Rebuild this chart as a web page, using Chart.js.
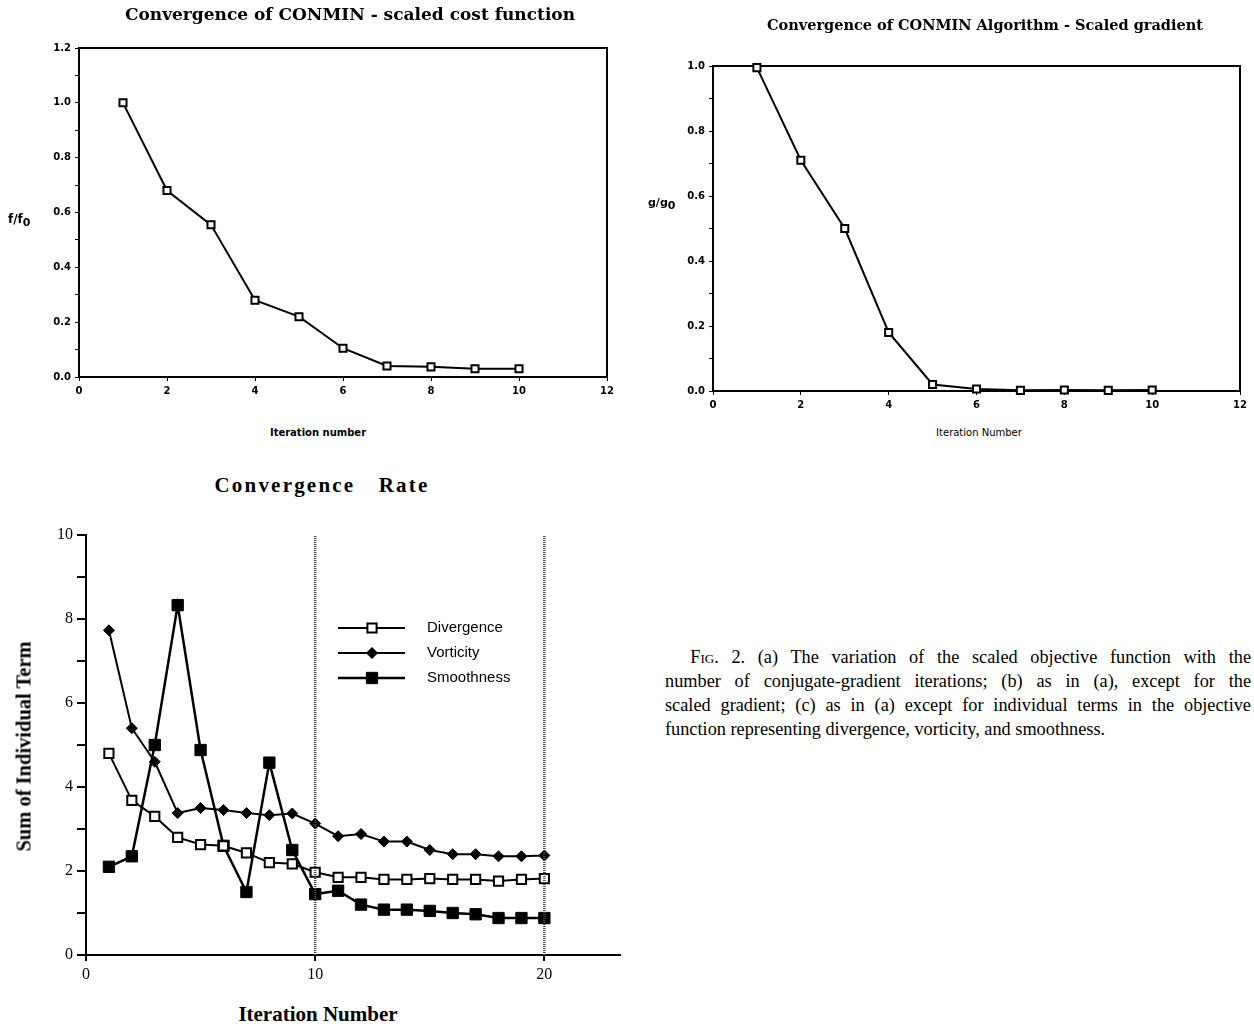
<!DOCTYPE html>
<html>
<head>
<meta charset="utf-8">
<script src="https://cdn.jsdelivr.net/npm/chart.js@4.4.1/dist/chart.umd.min.js"></script>
<style>
  body { margin: 0; background: #fff; width: 1254px; height: 1026px; position: relative; overflow: hidden; color: #000; }
  .box { position: absolute; }
  .txt { position: absolute; white-space: nowrap; }
  .ttlA { font: bold 17px "DejaVu Serif"; }
  .ttlB { font: bold 14.5px "DejaVu Serif"; }
  .axA { font: bold 10px "DejaVu Sans"; }
  .serif { font-family: "Liberation Serif"; font-weight: bold; }
  .caption { position: absolute; left: 665px; top: 645px; width: 586px; font: 18.3px/24px "Liberation Serif"; }
  .caption div { text-align: justify; text-align-last: justify; }
  .caption div.last { text-align-last: left; }
</style>
</head>
<body>

<div class="box" style="left:0;top:0;width:630px;height:420px"><canvas id="chartA"></canvas></div>
<div class="box" style="left:640px;top:0;width:614px;height:420px"><canvas id="chartB"></canvas></div>
<div class="box" style="left:0;top:500px;width:640px;height:500px"><canvas id="chartC"></canvas></div>

<div class="txt ttlA" style="left:0;width:700px;top:4px;text-align:center">Convergence of CONMIN - scaled cost function</div>
<div class="txt ttlB" style="left:735px;width:500px;top:16px;text-align:center">Convergence of CONMIN Algorithm - Scaled gradient</div>
<div class="txt axA" style="left:8px;top:212px;font-size:12px">f/f<sub style="font-size:11px">0</sub></div>
<div class="txt axA" style="left:648px;top:196px;font-size:11px">g/g<sub style="font-size:11px">0</sub></div>
<div class="txt axA" style="left:218px;width:200px;top:427px;text-align:center">Iteration number</div>
<div class="txt axA" style="left:879px;width:200px;top:427px;text-align:center;font-weight:normal">Iteration Number</div>

<div class="txt serif" style="left:162px;width:320px;top:473px;text-align:center;font-size:21px;letter-spacing:2.2px;word-spacing:16px">Convergence Rate</div>
<div class="txt serif" style="left:-96px;width:240px;top:735px;text-align:center;font-size:20.5px;transform:rotate(-90deg)">Sum of Individual Term</div>
<div class="txt serif" style="left:208px;width:220px;top:1002px;text-align:center;font-size:21px">Iteration Number</div>

<div class="caption">
  <div>&nbsp;&nbsp;<span style="font-variant:small-caps">Fig</span>. 2. (a) The variation of the scaled objective function with the</div>
  <div>number of conjugate-gradient iterations; (b) as in (a), except for the</div>
  <div>scaled gradient; (c) as in (a) except for individual terms in the objective</div>
  <div class="last">function representing divergence, vorticity, and smoothness.</div>
</div>

<script>
// (a) scaled cost function
const iterA = [1, 2, 3, 4, 5, 6, 7, 8, 9, 10];
const costRatio = [1.0, 0.68, 0.555, 0.28, 0.22, 0.105, 0.04, 0.037, 0.03, 0.03];

// (b) scaled gradient
const iterB = [1, 2, 3, 4, 5, 6, 7, 8, 9, 10];
const gradRatio = [0.995, 0.71, 0.5, 0.18, 0.02, 0.006, 0.002, 0.003, 0.002, 0.003];

// (c) individual terms
const iterC = [1, 2, 3, 4, 5, 6, 7, 8, 9, 10, 11, 12, 13, 14, 15, 16, 17, 18, 19, 20];
const divergence = [4.8, 3.68, 3.3, 2.8, 2.63, 2.6, 2.43, 2.2, 2.17, 1.97, 1.85, 1.85, 1.8, 1.8, 1.82, 1.8, 1.8, 1.76, 1.8, 1.82];
const vorticity = [7.73, 5.4, 4.6, 3.38, 3.5, 3.45, 3.38, 3.33, 3.37, 3.13, 2.83, 2.88, 2.7, 2.7, 2.5, 2.4, 2.4, 2.35, 2.35, 2.37];
const smoothness = [2.1, 2.35, 5.0, 8.33, 4.88, 2.6, 1.5, 4.58, 2.5, 1.45, 1.53, 1.2, 1.08, 1.08, 1.05, 1.0, 0.97, 0.88, 0.88, 0.88];
const markerLines = [10, 20];

const toXY = (xs, ys) => xs.map((x, i) => ({ x: x, y: ys[i] }));

const frame = {
    id: 'frame',
    beforeDatasetsDraw(chart) {
        const a = chart.chartArea;
        const ctx = chart.ctx;
        ctx.save();
        ctx.strokeStyle = '#000';
        ctx.lineWidth = 2;
        ctx.strokeRect(a.left, a.top, a.right - a.left, a.bottom - a.top);
        ctx.restore();
    }
};

function smallChart(id, xs, ys, yMax, pad) {
    const tickFont = { family: 'DejaVu Sans', size: 10, weight: 'bold' };
    return new Chart(document.getElementById(id), {
        type: 'line',
        data: {
            datasets: [{
                data: toXY(xs, ys),
                borderColor: '#000',
                borderWidth: 2,
                pointStyle: 'rect',
                pointRadius: 5,
                pointBorderWidth: 2,
                pointBackgroundColor: '#fff',
                pointBorderColor: '#000',
                clip: false
            }]
        },
        options: {
            responsive: false,
            animation: false,
            layout: { padding: pad },
            plugins: { legend: { display: false }, tooltip: { enabled: false } },
            scales: {
                x: {
                    type: 'linear', min: 0, max: 12,
                    ticks: { stepSize: 2, color: '#000', font: tickFont, padding: 4 },
                    grid: { drawOnChartArea: false, tickLength: 4, color: '#000' },
                    border: { display: false },
                    afterFit: s => { s.height = 29; }
                },
                y: {
                    min: 0, max: yMax,
                    ticks: {
                        stepSize: 0.1, color: '#000', font: tickFont, padding: 4,
                        callback: v => Math.round(v * 10) % 2 === 0 ? v.toFixed(1) : ''
                    },
                    grid: { drawOnChartArea: false, tickLength: 4, color: '#000' },
                    border: { display: false },
                    afterFit: s => { s.width = 50; }
                }
            }
        },
        plugins: [frame]
    });
}

const ca = document.getElementById('chartA');
ca.width = 630; ca.height = 406;
smallChart('chartA', iterA, costRatio, 1.2, { left: 29, top: 48, right: 23, bottom: 0 });

const cb = document.getElementById('chartB');
cb.width = 614; cb.height = 420;
smallChart('chartB', iterB, gradRatio, 1.0, { left: 23, top: 66, right: 14, bottom: 0 });

// custom legend for (c), drawn with each dataset's own style
const sideLegend = {
    id: 'sideLegend',
    afterDraw(chart) {
        const ctx = chart.ctx;
        const a = chart.chartArea;
        ctx.save();
        let row = 0;
        chart.data.datasets.forEach(ds => {
            if (!ds.label) return;
            const y = a.top + 93 + row * 25;
            const x0 = a.left + 252;
            ctx.strokeStyle = '#000';
            ctx.lineWidth = ds.borderWidth;
            ctx.beginPath();
            ctx.moveTo(x0, y);
            ctx.lineTo(x0 + 67, y);
            ctx.stroke();
            ctx.fillStyle = ds.pointBackgroundColor;
            ctx.lineWidth = ds.pointBorderWidth;
            Chart.helpers.drawPoint(ctx, { pointStyle: ds.pointStyle, radius: ds.pointRadius, borderWidth: ds.pointBorderWidth, rotation: 0 }, x0 + 34, y);
            ctx.fillStyle = '#000';
            ctx.font = '15px "Liberation Sans"';
            ctx.textBaseline = 'middle';
            ctx.fillText(ds.label, x0 + 89, y);
            row++;
        });
        ctx.restore();
    }
};

const cc = document.getElementById('chartC');
cc.width = 640; cc.height = 500;
const serifTicks = { family: 'Liberation Serif', size: 16 };
const refDatasets = markerLines.map(v => ({
    data: [{ x: v, y: 0 }, { x: v, y: 10 }],
    borderColor: '#444',
    borderWidth: 2.5,
    borderDash: [1, 1],
    pointRadius: 0,
    clip: false
}));
new Chart(cc, {
    type: 'line',
    data: {
        datasets: refDatasets.concat([
            {
                label: 'Divergence',
                data: toXY(iterC, divergence),
                borderColor: '#000', borderWidth: 2,
                pointStyle: 'rect', pointRadius: 6.5, pointBorderWidth: 2,
                pointBackgroundColor: '#fff', pointBorderColor: '#000', clip: false
            },
            {
                label: 'Vorticity',
                data: toXY(iterC, vorticity),
                borderColor: '#000', borderWidth: 2,
                pointStyle: 'rectRot', pointRadius: 5.5, pointBorderWidth: 1,
                pointBackgroundColor: '#000', pointBorderColor: '#000', clip: false
            },
            {
                label: 'Smoothness',
                data: toXY(iterC, smoothness),
                borderColor: '#000', borderWidth: 2.5,
                pointStyle: 'rect', pointRadius: 8, pointBorderWidth: 1,
                pointBackgroundColor: '#000', pointBorderColor: '#000', clip: false
            }
        ])
    },
    options: {
        responsive: false,
        animation: false,
        layout: { padding: { left: 10, top: 35, right: 20, bottom: 0 } },
        plugins: { legend: { display: false }, tooltip: { enabled: false } },
        scales: {
            x: {
                type: 'linear', min: 0, max: 23.3,
                afterBuildTicks: s => { s.ticks = [0, 10, 20].map(v => ({ value: v })); },
                ticks: { color: '#000', font: serifTicks, padding: 4 },
                grid: { drawOnChartArea: false, tickLength: 6, color: '#000', lineWidth: 2 },
                border: { display: true, color: '#000', width: 2 },
                afterFit: s => { s.height = 45; }
            },
            y: {
                min: 0, max: 10,
                ticks: {
                    stepSize: 1, color: '#000', font: serifTicks, padding: 4,
                    callback: v => v % 2 === 0 ? String(v) : ''
                },
                grid: { drawOnChartArea: false, tickLength: 9, color: '#000', lineWidth: 2 },
                border: { display: true, color: '#000', width: 2 },
                afterFit: s => { s.width = 76; }
            }
        }
    },
    plugins: [sideLegend]
});
</script>
</body>
</html>
